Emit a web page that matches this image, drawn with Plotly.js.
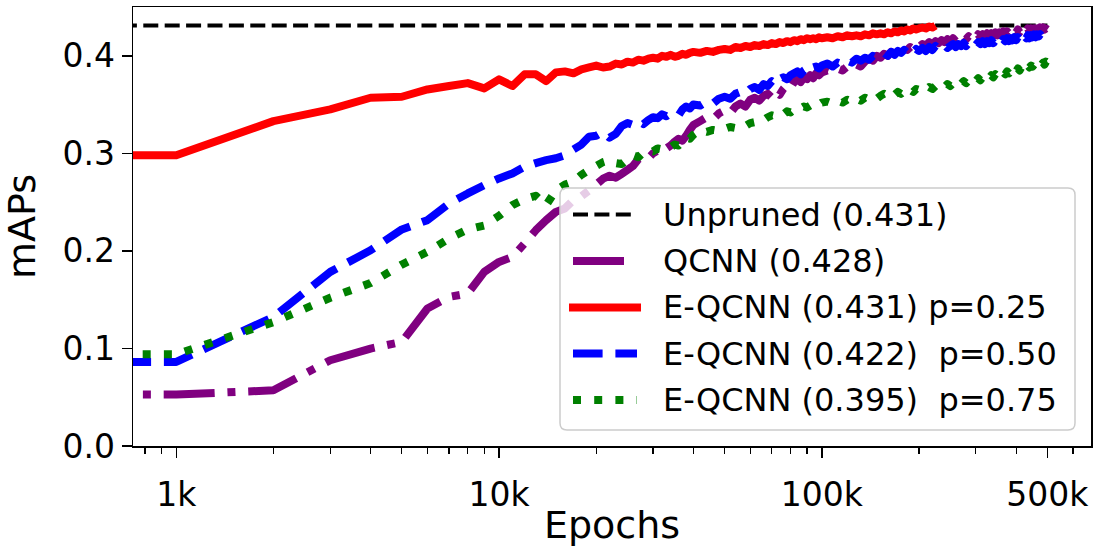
<!DOCTYPE html>
<html>
<head>
<meta charset="utf-8">
<script src="https://cdn.plot.ly/plotly-3.0.1.min.js"></script>
<style>
  html, body { margin: 0; padding: 0; background: #fff; }
  #chart { width: 1104px; height: 547px; }
  .scatterlayer path.js-line { stroke-linejoin: round; }
</style>
</head>
<body>
<div id="chart"></div>
<script>
// ---- data ----
const epochs = [
  500, 1000, 2000, 3000, 4000, 5000, 6000, 7000, 8000, 9000,
  10000, 11000, 12000, 13000, 14000, 15000, 16000, 17000, 18000, 19000,
  20000, 21000, 22000, 23000, 24000, 25000, 26000, 27000, 28000, 29000,
  30000, 31000, 32000, 33000, 34000, 35000, 36000, 37000, 38000, 39000, 40000,
  42000, 44000, 46000, 48000, 50000, 52000, 54000, 56000, 58000, 60000,
  62000, 64000, 66000, 68000, 70000, 72000, 74000, 76000, 78000, 80000,
  82000, 84000, 86000, 88000, 90000, 92000, 94000, 96000, 98000, 100000,
  104000, 108000, 112000, 116000, 120000, 124000, 128000, 132000, 136000, 140000,
  144000, 148000, 152000, 156000, 160000, 164000, 168000, 172000, 176000, 180000,
  184000, 188000, 192000, 196000, 200000,
  205000, 210000, 215000, 220000, 225000, 230000, 235000, 240000, 245000, 250000,
  255000, 260000, 265000, 270000, 275000, 280000, 285000, 290000, 295000, 300000,
  305000, 310000, 315000, 320000, 325000, 330000, 335000, 340000, 345000, 350000,
  355000, 360000, 365000, 370000, 375000, 380000, 385000, 390000, 395000, 400000,
  405000, 410000, 415000, 420000, 425000, 430000, 435000, 440000, 445000, 450000,
  455000, 460000, 465000, 470000, 475000, 480000, 485000, 490000, 495000, 500000];

const unprunedX = [500, 500000];
const unprunedY = [0.431, 0.431];

const qcnn = [
  0.0527, 0.0527, 0.0571, 0.0879, 0.0999, 0.1067, 0.1409, 0.1528, 0.1563, 0.1785,
  0.1887, 0.1938, 0.2076, 0.2212, 0.2315, 0.2400, 0.2435, 0.2520, 0.2560, 0.2620,
  0.268, 0.274, 0.277, 0.275, 0.279, 0.283, 0.287, 0.294, 0.297, 0.295,
  0.300, 0.303, 0.301, 0.305, 0.308, 0.312, 0.315, 0.313, 0.318, 0.324, 0.329,
  0.333, 0.337, 0.335, 0.341, 0.344, 0.341, 0.348, 0.351, 0.348, 0.355,
  0.357, 0.354, 0.359, 0.361, 0.357, 0.363, 0.360, 0.366, 0.370, 0.367,
  0.373, 0.376, 0.373, 0.378, 0.376, 0.380, 0.377, 0.382, 0.380, 0.383,
  0.385, 0.383, 0.387, 0.385, 0.389, 0.387, 0.391, 0.389, 0.394, 0.397,
  0.395, 0.400, 0.398, 0.402, 0.400, 0.404, 0.402, 0.406, 0.404, 0.408,
  0.406, 0.409, 0.407, 0.411, 0.409,
  0.412, 0.410, 0.414, 0.411, 0.415, 0.413, 0.416, 0.414, 0.417, 0.414,
  0.418, 0.415, 0.419, 0.416, 0.420, 0.417, 0.420, 0.418, 0.421, 0.418,
  0.422, 0.419, 0.422, 0.420, 0.423, 0.420, 0.423, 0.421, 0.424, 0.421,
  0.424, 0.422, 0.425, 0.422, 0.425, 0.423, 0.426, 0.423, 0.426, 0.424,
  0.427, 0.424, 0.427, 0.425, 0.427, 0.425, 0.428, 0.425, 0.428, 0.426,
  0.428, 0.426, 0.428, 0.426, 0.429, 0.426, 0.429, 0.427, 0.428, 0.427];

const eqcnn25 = [
  0.298, 0.298, 0.333, 0.345, 0.357, 0.358, 0.3655, 0.369, 0.372, 0.3666,
  0.3758, 0.369, 0.381, 0.381, 0.374, 0.383, 0.384, 0.382, 0.386, 0.388,
  0.390, 0.388, 0.389, 0.392, 0.391, 0.394, 0.393, 0.396, 0.395, 0.397,
  0.398, 0.397, 0.400, 0.399, 0.401, 0.399, 0.400, 0.402, 0.401, 0.403, 0.404,
  0.403, 0.405, 0.404, 0.406, 0.407, 0.406, 0.409, 0.408, 0.410, 0.409,
  0.411, 0.410, 0.412, 0.411, 0.413, 0.412, 0.414, 0.413, 0.415, 0.414,
  0.416, 0.415, 0.417, 0.416, 0.418, 0.417, 0.418, 0.417, 0.419, 0.418,
  0.419, 0.418, 0.420, 0.419, 0.421, 0.420, 0.421, 0.420, 0.422, 0.421,
  0.423, 0.422, 0.423, 0.422, 0.424, 0.423, 0.425, 0.424, 0.426, 0.425,
  0.427, 0.426, 0.428, 0.427, 0.428,
  0.429, 0.428, 0.430, 0.429, 0.431];

const eqcnn50 = [
  0.0862, 0.0862, 0.1323, 0.1785, 0.2007, 0.2220, 0.2315, 0.2486, 0.2589, 0.2674,
  0.2743, 0.2794, 0.2862, 0.2900, 0.2930, 0.2950, 0.2980, 0.3040, 0.3090, 0.3170,
  0.318, 0.322, 0.316, 0.320, 0.328, 0.331, 0.329, 0.333, 0.330, 0.334,
  0.337, 0.336, 0.340, 0.338, 0.341, 0.340, 0.339, 0.345, 0.348, 0.346, 0.350,
  0.349, 0.353, 0.351, 0.356, 0.358, 0.356, 0.361, 0.363, 0.361, 0.366,
  0.368, 0.365, 0.371, 0.369, 0.374, 0.371, 0.376, 0.378, 0.376, 0.380,
  0.382, 0.384, 0.381, 0.385, 0.387, 0.384, 0.388, 0.389, 0.387, 0.390,
  0.392, 0.389, 0.393, 0.391, 0.395, 0.393, 0.397, 0.395, 0.398, 0.396,
  0.400, 0.398, 0.401, 0.403, 0.400, 0.404, 0.401, 0.405, 0.403, 0.406,
  0.403, 0.407, 0.404, 0.407, 0.405,
  0.408, 0.405, 0.409, 0.406, 0.410, 0.407, 0.409, 0.411, 0.408, 0.410,
  0.412, 0.409, 0.412, 0.410, 0.413, 0.410, 0.413, 0.411, 0.414, 0.411,
  0.414, 0.412, 0.415, 0.412, 0.415, 0.413, 0.416, 0.413, 0.416, 0.414,
  0.417, 0.414, 0.417, 0.415, 0.418, 0.415, 0.418, 0.416, 0.419, 0.416,
  0.419, 0.417, 0.420, 0.417, 0.420, 0.418, 0.421, 0.418, 0.421, 0.419,
  0.422, 0.419, 0.422, 0.420, 0.422, 0.420, 0.422, 0.420, 0.422, 0.421];

const eqcnn75 = [
  0.094, 0.094, 0.127, 0.152, 0.167, 0.186, 0.199, 0.2127, 0.222, 0.226,
  0.236, 0.247, 0.253, 0.2565, 0.247, 0.262, 0.268, 0.271, 0.278, 0.283,
  0.287, 0.291, 0.293, 0.290, 0.289, 0.294, 0.298, 0.296, 0.301, 0.303,
  0.302, 0.305, 0.304, 0.307, 0.306, 0.309, 0.308, 0.312, 0.316, 0.315, 0.319,
  0.3238, 0.322, 0.324, 0.323, 0.325, 0.327, 0.326, 0.329, 0.328, 0.331,
  0.332, 0.335, 0.334, 0.337, 0.339, 0.338, 0.341, 0.340, 0.343, 0.342,
  0.345, 0.347, 0.346, 0.348, 0.347, 0.349, 0.348, 0.351, 0.350, 0.352,
  0.353, 0.351, 0.354, 0.352, 0.355, 0.353, 0.356, 0.354, 0.357, 0.355,
  0.358, 0.356, 0.359, 0.361, 0.359, 0.362, 0.360, 0.363, 0.361, 0.364,
  0.362, 0.365, 0.363, 0.366, 0.365,
  0.367, 0.365, 0.368, 0.366, 0.369, 0.367, 0.370, 0.368, 0.371, 0.369,
  0.372, 0.370, 0.373, 0.371, 0.374, 0.372, 0.375, 0.373, 0.376, 0.374,
  0.377, 0.375, 0.378, 0.376, 0.379, 0.377, 0.380, 0.378, 0.381, 0.379,
  0.382, 0.380, 0.383, 0.381, 0.384, 0.382, 0.385, 0.383, 0.386, 0.384,
  0.387, 0.385, 0.388, 0.386, 0.389, 0.387, 0.390, 0.388, 0.390, 0.389,
  0.391, 0.389, 0.392, 0.390, 0.392, 0.391, 0.393, 0.391, 0.394, 0.393];

const names = ['Unpruned (0.431)', 'QCNN (0.428)', 'E-QCNN (0.431) p=0.25',
  'E-QCNN (0.422)\u00a0 p=0.50', 'E-QCNN (0.395)\u00a0 p=0.75'];
const colors = ['#000000', '#800080', '#ff0000', '#0000ff', '#008000'];
const xTickVals = [1000, 10000, 100000, 500000];
const xTickText = ['1k', '10k', '100k', '500k'];
const xMinorVals = [800, 900, 2000, 3000, 4000, 5000, 6000, 7000, 8000, 9000,
  20000, 30000, 40000, 50000, 60000, 70000, 80000, 90000, 200000, 300000, 400000, 600000];
const yTickVals = [0, 0.1, 0.2, 0.3, 0.4];

// ---- styles ----
const FONT = 'DejaVu Sans, sans-serif';
const dashes = {
  black: '15px,6.4px',
  purple: '51px,12.8px,8px,12.8px',
  blue: '29.6px,12.8px',
  green: '8px,13.2px'
};

const traces = [
  {x: unprunedX, y: unprunedY, name: names[0], mode: 'lines',
   line: {color: colors[0], width: 4, dash: dashes.black}},
  {x: epochs, y: qcnn, name: names[1], mode: 'lines',
   line: {color: colors[1], width: 8, dash: dashes.purple, simplify: false}},
  {x: epochs.slice(0, eqcnn25.length), y: eqcnn25, name: names[2], mode: 'lines',
   line: {color: colors[2], width: 8, simplify: false}},
  {x: epochs, y: eqcnn50, name: names[3], mode: 'lines',
   line: {color: colors[3], width: 8, dash: dashes.blue, simplify: false}},
  {x: epochs, y: eqcnn75, name: names[4], mode: 'lines',
   line: {color: colors[4], width: 8, dash: dashes.green, simplify: false}}
];
traces.forEach(t => { t.showlegend = false; t.hoverinfo = 'skip'; });

// ---- layout geometry (pixels) ----
const W = 1104, H = 547;
const M = {l: 133, r: 13, t: 7, b: 101};
const PW = W - M.l - M.r, PH = H - M.t - M.b;
const px = v => (v - M.l) / PW;
const py = v => (H - M.b - v) / PH;

// custom legend
const box = {x0: 560, x1: 1075, y0: 188, y1: 430, r: 7};
const bx0 = px(box.x0), bx1 = px(box.x1), byT = py(box.y0), byB = py(box.y1);
const rx = box.r / PW, ry = box.r / PH;
const boxPath = `M ${bx0 + rx},${byB} L ${bx1 - rx},${byB} Q ${bx1},${byB} ${bx1},${byB + ry} ` +
  `L ${bx1},${byT - ry} Q ${bx1},${byT} ${bx1 - rx},${byT} L ${bx0 + rx},${byT} ` +
  `Q ${bx0},${byT} ${bx0},${byT - ry} L ${bx0},${byB + ry} Q ${bx0},${byB} ${bx0 + rx},${byB} Z`;

const rowY = [214.5, 261, 307.5, 353.5, 400];
const hx0 = 573, hx1 = 637, textX = 661;
const handleStyles = [
  {w: 4, dash: dashes.black, x0: hx0, x1: hx1},
  {w: 8, dash: 'solid', x0: hx0, x1: hx0 + 51},
  {w: 8, dash: 'solid', x0: hx0 - 4, x1: hx1 + 4},
  {w: 8, dash: dashes.blue, x0: hx0, x1: hx1},
  {w: 8, dash: dashes.green, x0: hx0, x1: hx1}
];

const shapes = [{type: 'path', path: boxPath, xref: 'paper', yref: 'paper', layer: 'above',
  fillcolor: 'rgba(255,255,255,0.8)', line: {color: '#cccccc', width: 1.5}}];
const annotations = [];
names.forEach((n, i) => {
  const hs = handleStyles[i];
  shapes.push({type: 'line', xref: 'paper', yref: 'paper', layer: 'above',
    x0: px(hs.x0), x1: px(hs.x1), y0: py(rowY[i]), y1: py(rowY[i]),
    line: {color: colors[i], width: hs.w, dash: hs.dash}});
  annotations.push({xref: 'paper', yref: 'paper', x: px(textX), y: py(rowY[i]),
    xanchor: 'left', yanchor: 'middle', showarrow: false, text: n,
    font: {family: FONT, size: 32, color: '#000'}});
});

const layout = {
  width: W, height: H,
  margin: M,
  paper_bgcolor: '#fff', plot_bgcolor: '#fff',
  font: {family: FONT, color: '#000'},
  showlegend: false,
  xaxis: {
    type: 'log', range: [2.866, 5.834],
    tickmode: 'array', tickvals: xTickVals, ticktext: xTickText,
    ticks: 'outside', ticklen: 10, tickwidth: 1.5, tickcolor: '#000',
    ticklabelstandoff: 9,
    tickfont: {family: FONT, size: 33, color: '#000'},
    minor: {tickmode: 'array', tickvals: xMinorVals, ticks: 'outside', ticklen: 6, tickwidth: 1.2, tickcolor: '#000', showgrid: false},
    showline: true, linecolor: '#000', linewidth: 1.5, mirror: true,
    showgrid: false, zeroline: false,
    title: {text: 'Epochs', font: {family: FONT, size: 38, color: '#000'}, standoff: 0}
  },
  yaxis: {
    range: [0, 0.45],
    tickmode: 'array', tickvals: yTickVals, tickformat: '.1f',
    ticks: 'outside', ticklen: 10, tickwidth: 1.5, tickcolor: '#000',
    tickfont: {family: FONT, size: 33, color: '#000'},
    showline: true, linecolor: '#000', linewidth: 1.5, mirror: true,
    showgrid: false, zeroline: false,
    title: {text: 'mAPs', font: {family: FONT, size: 38, color: '#000'}, standoff: 15}
  },
  shapes: shapes,
  annotations: annotations
};

Plotly.newPlot('chart', traces, layout, {displayModeBar: false, staticPlot: true});
</script>
</body>
</html>
